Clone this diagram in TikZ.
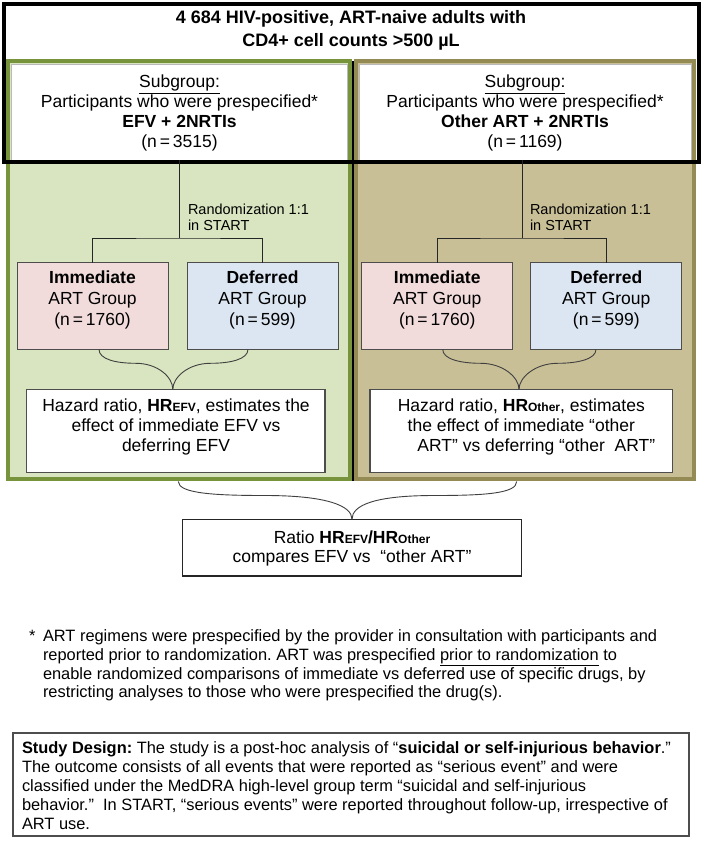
\documentclass[tikz,border=0pt]{standalone}
\usepackage{fontspec}
\setmainfont{Liberation Sans}
\usetikzlibrary{calc}
\definecolor{gborder}{HTML}{77933C}
\definecolor{gfill}{HTML}{D9E5C0}
\definecolor{tborder}{HTML}{948A54}
\definecolor{tfill}{HTML}{C9BF97}
\definecolor{pinkfill}{HTML}{F2DCDB}
\definecolor{bluefill}{HTML}{DCE6F2}
\definecolor{boxline}{HTML}{4D4D4D}
\newcommand{\fmain}{\fontsize{17.5}{20}\selectfont}
\newcommand{\fsubscr}{\fontsize{12}{12}\selectfont\bfseries}
\newcommand{\hrsub}[1]{\textbf{HR}{\fsubscr #1}}
\frenchspacing
\begin{document}
\begin{tikzpicture}[x=1pt,y=-1pt,
  every node/.style={inner sep=0pt, outer sep=0pt},
  panelG/.style={draw=gborder, fill=gfill, line width=4pt},
  panelT/.style={draw=tborder, fill=tfill, line width=4pt},
  subbox/.style={draw=gray!55, fill=white, line width=0.6pt, minimum height=96pt},
  grpbox/.style={draw=boxline, line width=0.8pt, minimum width=151pt, minimum height=86.6pt},
  hrbox/.style={draw=boxline, fill=white, line width=1.2pt, minimum height=83.4pt},
  txt/.style={align=center, font=\fmain},
  grptxt/.style={align=center, font={\fontsize{17.5}{21}\selectfont}},
  tree/.style={draw=black!85, line width=0.9pt},
  brace/.style={draw=black!75, line width=0.9pt},
  rlab/.style={align=left, font={\fontsize{14.5}{16}\selectfont}, anchor=west},
  note/.style={align=left, font={\fontsize{16.4}{18.7}\selectfont}, anchor=north west}
]
\useasboundingbox (0,0) rectangle (702,845);
\fill[white] (0,0) rectangle (702,845);

% panels
\path[panelG] (8,61) rectangle (350,479);
\path[panelT] (355.5,61) rectangle (694,479);
\draw[black, line width=2pt] (352.5,61) -- (352.5,481);

% header
\node[txt, font={\fontsize{18}{23}\selectfont\bfseries}] (head) at (351,30.5)
  {4 684 HIV-positive, ART-naive adults with\\CD4+ cell counts >500 µL};

% subgroup boxes
\node[subbox, minimum width=336pt] (sub1) at (179,112) {};
\node[txt] (sub1t) at (179.5,113.3)
  {\underline{Subgroup:}\\Participants who were prespecified*\\\textbf{EFV + 2NRTIs}\\(n\,=\,3515)};
\node[subbox, minimum width=332pt] (sub2) at (525,112) {};
\node[txt] (sub2t) at (525,113.3)
  {\underline{Subgroup:}\\Participants who were prespecified*\\\textbf{Other ART + 2NRTIs}\\(n\,=\,1169)};

% outer frame
\draw[black, line width=4pt] (4,4) rectangle (699,162);

% group boxes
\node[grpbox, fill=pinkfill] (imm1) at (92.5,306) {};
\node[grptxt] (imm1t) at (92.5,299.5) {\textbf{Immediate}\\ART Group\\(n\,=\,1760)};
\node[grpbox, fill=bluefill] (def1) at (262.5,306) {};
\node[grptxt] (def1t) at (262.5,299.5) {\textbf{Deferred}\\ART Group\\(n\,=\,599)};
\node[grpbox, fill=pinkfill] (imm2) at (437.2,306) {};
\node[grptxt] (imm2t) at (437.2,299.5) {\textbf{Immediate}\\ART Group\\(n\,=\,1760)};
\node[grpbox, fill=bluefill] (def2) at (606.3,306) {};
\node[grptxt] (def2t) at (606.3,299.5) {\textbf{Deferred}\\ART Group\\(n\,=\,599)};

% randomization trees
\coordinate (r1) at ([yshift=-78pt]sub1.south);
\draw[tree] (sub1.south) -- (r1);
\draw[tree] (imm1.north) |- (r1) -| (def1.north);
\coordinate (r2) at ([xshift=-2.7pt,yshift=-78pt]sub2.south);
\draw[tree] (sub2.south -| r2) -- (r2);
\draw[tree] (imm2.north) |- (r2) -| (def2.north);
\node[rlab] (rl1) at (188,217) {Randomization 1:1\\in START};
\node[rlab] (rl2) at (530,217) {Randomization 1:1\\in START};

% hazard ratio boxes
\node[hrbox, minimum width=298.3pt] (hr1) at (175.8,431) {};
\node[txt] (hr1t) at (176,426.7)
  {Hazard ratio, \hrsub{EFV}, estimates the\\effect of immediate EFV vs\hspace*{32pt}\\deferring EFV};
\node[hrbox, minimum width=302.7pt] (hr2) at (521.3,431) {};
\node[txt] (hr2t) at (521.3,426.7)
  {Hazard ratio, \hrsub{Other}, estimates\\the effect of immediate “other\\\hspace*{30pt}ART” vs deferring “other\ \ ART”};

% braces to HR boxes
\coordinate (b1l) at ([xshift=6.5pt]imm1.south);
\coordinate (b1r) at ([xshift=-14.5pt]def1.south);
\coordinate (b1t) at ([xshift=-3pt]hr1.north);
\coordinate (b1a) at ($(b1l)!0.5!(b1t |- b1l) + (0,14)$);
\coordinate (b1b) at ($(b1r)!0.5!(b1t |- b1r) + (0,14)$);
\draw[brace] (b1l) .. controls +(0,10) and +(-20,0) .. (b1a) .. controls +(22,0) and +(0,-12) .. (b1t);
\draw[brace] (b1r) .. controls +(0,10) and +(20,0) .. (b1b) .. controls +(-22,0) and +(0,-12) .. (b1t);

\coordinate (b2l) at ([xshift=5.5pt]imm2.south);
\coordinate (b2r) at ([xshift=-10.3pt]def2.south);
\coordinate (b2t) at ([xshift=-2.3pt]hr2.north);
\coordinate (b2a) at ($(b2l)!0.5!(b2t |- b2l) + (0,14)$);
\coordinate (b2b) at ($(b2r)!0.5!(b2t |- b2r) + (0,14)$);
\draw[brace] (b2l) .. controls +(0,10) and +(-20,0) .. (b2a) .. controls +(22,0) and +(0,-12) .. (b2t);
\draw[brace] (b2r) .. controls +(0,10) and +(20,0) .. (b2b) .. controls +(-22,0) and +(0,-12) .. (b2t);

% ratio box
\node[draw=black!85, line width=1.5pt, fill=white, minimum width=339.4pt, minimum height=56.7pt] (ratio) at (352,547.6) {};
\node[txt, font={\fontsize{17.5}{19}\selectfont}] (ratiot) at (352,548.8)
  {Ratio \hrsub{EFV}\textbf{/}\hrsub{Other}\\compares EFV vs\ \ “other ART”};

\coordinate (b3l) at (178.3,481.5);
\coordinate (b3r) at (516.7,481.5);
\coordinate (b3t) at (ratio.north);
\coordinate (b3a) at ($(b3l)!0.5!(b3t |- b3l) + (0,14)$);
\coordinate (b3b) at ($(b3r)!0.5!(b3t |- b3r) + (0,14)$);
\draw[brace] (b3l) .. controls +(0,12) and +(-50,0) .. (b3a) .. controls +(60,0) and +(0,-14) .. (b3t);
\draw[brace] (b3r) .. controls +(0,12) and +(50,0) .. (b3b) .. controls +(-60,0) and +(0,-14) .. (b3t);

% footnote
\node[note] (star) at (29,630) {*};
\node[note] (foot) at (43,630)
  {ART regimens were prespecified by the provider in consultation with participants and\\
   reported prior to randomization. ART was prespecified \underline{prior to randomization} to\\
   enable randomized comparisons of immediate vs deferred use of specific drugs, by\\
   restricting analyses to those who were prespecified the drug(s).};

% study design
\node[draw=boxline, line width=1.3pt, minimum width=676pt, minimum height=103pt] (sdbox) at (351,784.5) {};
\node[note, font={\fontsize{16.4}{19}\selectfont}] (sdtext) at (22,742)
  {\textbf{Study Design:} The study is a post-hoc analysis of “\textbf{suicidal or self-injurious behavior}.”\\
   The outcome consists of all events that were reported as “serious event” and were\\
   classified under the MedDRA high-level group term “suicidal and self-injurious\\
   behavior.”\ \ In START, “serious events” were reported throughout follow-up, irrespective of\\
   ART use.};
\end{tikzpicture}
\end{document}
